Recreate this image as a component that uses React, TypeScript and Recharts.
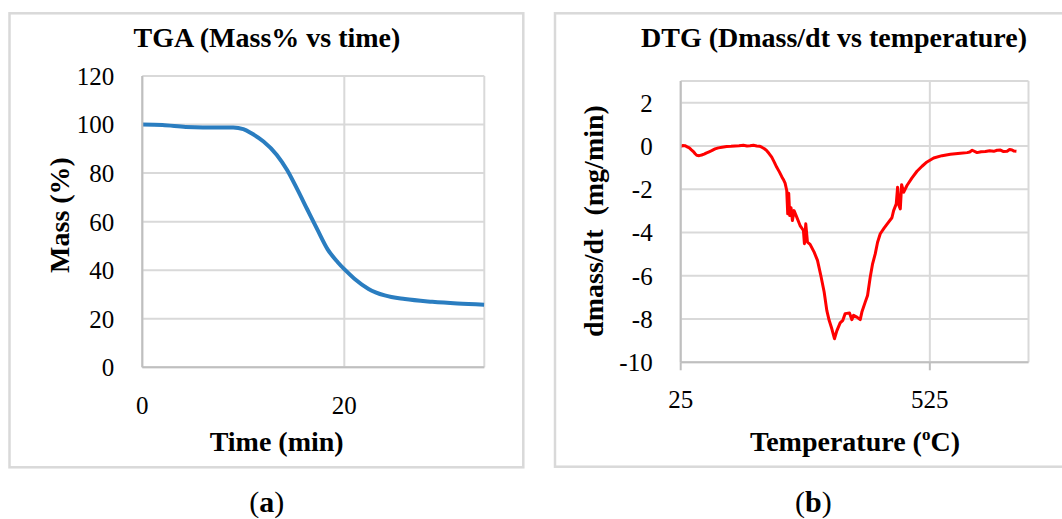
import React from 'react';
import { LineChart, Line, XAxis, YAxis, CartesianGrid } from 'recharts';

// ---- TGA (Mass % vs time) ----
const tgaTime = [0, 2, 4.3, 6, 9, 10, 10.8, 12, 13.3, 14.35, 15.35, 16.35, 17.35, 18.35, 19.35, 20.1, 21, 22.4, 24, 26, 28.7, 31.2, 33.84];
const tgaMass = [100, 99.8, 99.0, 98.8, 98.8, 98.1, 96.4, 93.0, 87.6, 81.2, 73.3, 64.9, 56.6, 48.6, 43.3, 40.0, 36.5, 32.3, 29.6, 28.1, 27.0, 26.3, 25.8];
const tgaXTicks = [0, 20];
const tgaYTicks = [0, 20, 40, 60, 80, 100, 120];

// ---- DTG (dmass/dt vs temperature) ----
const dtgTemp = [
  25, 29, 33.6, 38, 42.3, 46, 50.4, 54, 57.1, 62, 67.1, 72, 77.1, 82, 87.2, 94, 100.6, 108, 117.3, 126, 134.1, 142, 150.8, 158, 164.2, 171, 177.6, 183, 187.7,
  193, 197.7, 202, 207.7, 213, 217.8, 223, 227.8, 231, 234.5, 237.8, 239.8, 241.8, 243.8, 246.5, 249.2, 252.5, 257.9, 264.6, 271.3, 273.3, 276, 279.4,
  284.7, 292.8, 299.5, 306.2, 312.9, 318.2, 322.9, 328.3, 333.6, 338.3, 345, 350.4, 355.1, 363.8, 368.5, 371.9, 378.6, 385.3, 388.6, 395.3, 400,
  405.4, 410.1, 415.4, 420.1, 425.5, 433.5, 442.2, 448.9, 452.3, 457.6, 460.3, 463, 465.7, 468.4, 472.4, 479.1, 489.2, 499.2, 509.3, 519.3, 532.7,
  549.5, 566.2, 586.3, 600, 605, 610, 619.8, 628, 636.5, 645, 653.3, 660, 666.7, 673, 680.1, 685, 690.1, 694, 698.8,
];
const dtgValue = [
  -0.03, 0.02, 0.01, -0.04, -0.09, -0.17, -0.26, -0.36, -0.43, -0.45, -0.42, -0.38, -0.32, -0.27, -0.22, -0.14, -0.09, -0.06, -0.03, -0.02, 0.0, 0.01, 0.03, 0.0, 0.01, 0.03, 0.0, -0.01, -0.06,
  -0.13, -0.22, -0.34, -0.52, -0.76, -0.99, -1.2, -1.42, -1.55, -1.72, -2.06, -3.14, -2.19, -3.22, -2.86, -3.45, -2.99, -3.29, -3.68, -3.91, -4.52, -3.6, -4.45,
  -4.55, -4.91, -5.29, -5.99, -6.75, -7.6, -8.06, -8.45, -8.91, -8.55, -8.18, -8.06, -7.75, -7.72, -8.03, -7.83, -7.91, -8.03, -7.68, -7.22, -6.91,
  -6.06, -5.45, -4.99, -4.45, -4.06, -3.79, -3.52, -3.32, -2.99, -2.68, -1.91, -2.75, -2.91, -1.79, -2.14, -1.83, -1.48, -1.17, -0.94, -0.74, -0.56,
  -0.45, -0.39, -0.34, -0.31, -0.28, -0.2, -0.31, -0.27, -0.26, -0.22, -0.25, -0.2, -0.19, -0.26, -0.25, -0.17, -0.19, -0.24, -0.25,
];
const dtgXTicks = [25, 525];
const dtgYTicks = [-10, -8, -6, -4, -2, 0, 2];

const tgaData = tgaTime.map((t, i) => ({ t, m: tgaMass[i] }));
const dtgData = dtgTemp.map((t, i) => ({ t, v: dtgValue[i] }));

const FONT = '"Liberation Serif", "Times New Roman", serif';
const tickStyle = { fontSize: 25, fill: '#000', fontFamily: FONT };
const axisStyle = { stroke: '#bfbfbf', strokeWidth: 2 };
const gridColor = '#d9d9d9';

export default function App() {
  return (
    <div
      style={{
        position: 'absolute',
        left: 0,
        top: 0,
        width: 1062,
        height: 519,
        background: '#fff',
        overflow: 'hidden',
        fontFamily: FONT,
      }}
    >
      <svg width={1062} height={519} style={{ position: 'absolute', left: 0, top: 0 }}>
        <rect x={9.5} y={13.3} width={513.8} height={454} fill="none" stroke="#d9d9d9" strokeWidth={2.5} />
        <rect x={555} y={13.3} width={530} height={453.4} fill="none" stroke="#d9d9d9" strokeWidth={2.5} />
        <g fontFamily={FONT} fill="#000">
          <text x={267} y={46.5} textAnchor="middle" fontSize={28} fontWeight="bold">
            TGA (Mass% vs time)
          </text>
          <text x={834} y={46.5} textAnchor="middle" fontSize={28} fontWeight="bold">
            DTG (Dmass/dt vs temperature)
          </text>
          <text x={276.7} y={451} textAnchor="middle" fontSize={28} fontWeight="bold">
            Time (min)
          </text>
          <text x={855} y={451} textAnchor="middle" fontSize={28} fontWeight="bold">
            Temperature (
            <tspan fontSize={17} dy={-11}>o</tspan>
            <tspan dy={11}>C)</tspan>
          </text>
          <text transform="translate(69,215) rotate(-90)" textAnchor="middle" fontSize={28} fontWeight="bold">
            Mass (%)
          </text>
          <text
            transform="translate(603,221) rotate(-90)"
            textAnchor="middle"
            fontSize={28}
            fontWeight="bold"
            style={{ whiteSpace: 'pre' }}
          >
            {'dmass/dt  (mg/min)'}
          </text>
          <text x={266.7} y={511.5} textAnchor="middle" fontSize={30}>
            (<tspan fontWeight="bold">a</tspan>)
          </text>
          <text x={813.3} y={511.5} textAnchor="middle" fontSize={30}>
            (<tspan fontWeight="bold">b</tspan>)
          </text>
        </g>
      </svg>

      <div style={{ position: 'absolute', left: 0, top: 0 }}>
        <LineChart width={530} height={519} data={tgaData} margin={{ top: 76, right: 45.7, bottom: 121.7, left: 82.3 }}>
          <CartesianGrid stroke={gridColor} strokeWidth={2} />
          <XAxis
            dataKey="t"
            type="number"
            domain={[0, 33.86]}
            ticks={tgaXTicks}
            interval={0}
            height={30}
            tickLine={false}
            tickSize={0}
            tickMargin={29.4}
            axisLine={axisStyle}
            tick={tickStyle}
          />
          <YAxis
            type="number"
            domain={[0, 120]}
            ticks={tgaYTicks}
            interval={0}
            width={60}
            tickLine={false}
            tickSize={0}
            tickMargin={28}
            axisLine={axisStyle}
            tick={tickStyle}
          />
          <Line
            dataKey="m"
            type="monotone"
            stroke="#2a7dc0"
            strokeWidth={4}
            dot={false}
            isAnimationActive={false}
          />
        </LineChart>
      </div>

      <div style={{ position: 'absolute', left: 530, top: 0 }}>
        <LineChart width={532} height={519} data={dtgData} margin={{ top: 81, right: 33.5, bottom: 126.7, left: 90.7 }}>
          <CartesianGrid stroke={gridColor} strokeWidth={2} />
          <XAxis
            dataKey="t"
            type="number"
            domain={[25, 723]}
            ticks={dtgXTicks}
            interval={0}
            height={30}
            tickLine={axisStyle}
            tickSize={8}
            tickMargin={20.4}
            axisLine={axisStyle}
            tick={tickStyle}
          />
          <YAxis
            type="number"
            domain={[-10, 3]}
            ticks={dtgYTicks}
            interval={0}
            width={60}
            tickLine={false}
            tickSize={0}
            tickMargin={28}
            axisLine={axisStyle}
            tick={tickStyle}
          />
          <Line
            dataKey="v"
            type="linear"
            stroke="#ff0000"
            strokeWidth={3}
            strokeLinejoin="round"
            dot={false}
            isAnimationActive={false}
          />
        </LineChart>
      </div>
    </div>
  );
}
